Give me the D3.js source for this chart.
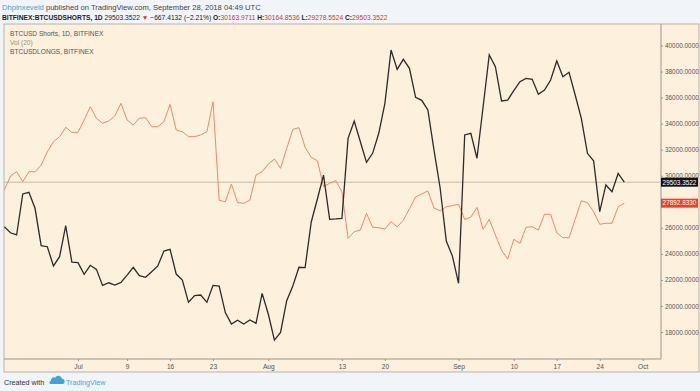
<!DOCTYPE html>
<html lang="en">
<head>
<meta charset="utf-8">
<title>BTCUSD Shorts vs Longs</title>
<script src="https://d3js.org/d3.v7.min.js"></script>
<style>
  body { margin: 0; background: #f1f4f8; }
  svg { display: block; font-family: "Liberation Sans", Arial, sans-serif; }
</style>
</head>
<body>
<svg width="700" height="391"></svg>
<script>
// daily closes, 2018-06-19 .. 2018-09-28
const firstDay = "2018-06-19";
const shorts = [
  26080, 25620, 25450, 28600, 28730, 27500, 24630, 24550, 23070, 23780, 26160, 23370,
  23320, 22430, 23120, 22810, 21580, 21780, 21610, 21810, 22370, 22970, 22320, 22200,
  22630, 23070, 24220, 24350, 22450, 21990, 20280, 20790, 20840, 20280, 21580, 21530,
  19490, 18610, 18900, 18610, 18920, 18670, 20970, 19380, 17380, 17970, 20400, 21530,
  22970, 22940, 26450, 28210, 30050, 26650, 26680, 26730, 32870, 34200, 32610, 31030,
  31720, 33260, 35560, 39650, 38170, 38940, 38250, 36020, 35790, 35050, 31970, 29060,
  24990, 23830, 21740, 33130, 33260, 31340, 35300, 39270, 38370, 35740, 35810, 36530,
  37220, 37480, 37400, 36250, 36580, 37350, 38810, 37600, 37940, 36200, 34410, 31720,
  31150, 27240, 29290, 28770, 30171, 29503.3522
];
const longs = [
  28900, 29980, 30310, 29540, 30310, 30300, 30820, 31840, 32610, 33000, 33720, 33330,
  33330, 34280, 35300, 34410, 34030, 34200, 34590, 35560, 34280, 33890, 34410, 34460,
  33760, 33760, 34150, 35480, 33510, 33380, 33000, 33000, 33130, 33380, 35680, 28110,
  28000, 29360, 27930, 27880, 28130, 30050, 30310, 30900, 31280, 30570, 32100, 33560,
  33690, 32180, 31410, 31150, 29160, 29420, 29620, 28770, 25190, 25700, 25830, 27110,
  26040, 26010, 25910, 26470, 26080, 26580, 27470, 28370, 28600, 28830, 27520, 27310,
  27620, 27700, 27800, 26650, 26810, 27570, 25880, 26650, 25450, 24290, 23600, 25120,
  24810, 26040, 26080, 25830, 27040, 27040, 25620, 25240, 25240, 26650, 28080, 27930,
  27240, 26270, 26350, 26350, 27620, 27892.833
];
const tickDates = ["2018-07-01", "2018-07-09", "2018-07-16", "2018-07-23", "2018-08-01", "2018-08-13",
                   "2018-08-20", "2018-09-01", "2018-09-10", "2018-09-17", "2018-09-24", "2018-10-01"];
const tickLabels = ["Jul", "9", "16", "23", "Aug", "13", "20", "Sep", "10", "17", "24", "Oct"];
// 28000 sits under the red last-value badge, so it has no label
const priceTicks = [18000, 20000, 22000, 24000, 26000, 30000, 32000, 34000, 36000, 38000, 40000];

const svg = d3.select("svg");
const pane = {left: 4, right: 661, top: 24, bottom: 359};
const axisBottom = 372, outerRight = 699;

const parse = d3.timeParse("%Y-%m-%d");
const day0 = parse(firstDay);
const dates = shorts.map((d, i) => d3.timeDay.offset(day0, i));

const x = d3.scaleTime()
    .domain([parse("2018-07-01"), parse("2018-10-01")])
    .range([78, 642.7]);
const y = d3.scaleLinear()
    .domain([18000, 40000])
    .range([332, 45.5]);

// header
const h1 = svg.append("text").attr("x", 2).attr("y", 9.5).attr("font-size", 7.6).attr("fill", "#444");
h1.append("tspan").attr("fill", "#3ba6dc").text("Dhpinxeveld");
h1.append("tspan").text(" published on TradingView.com, September 28, 2018 04:49 UTC");

const h2 = svg.append("text").attr("x", 2).attr("y", 19.5).attr("font-size", 6.7).attr("fill", "#222");
h2.append("tspan").attr("font-weight", "bold").text("BITFINEX:BTCUSDSHORTS, 1D");
h2.append("tspan").text("  29503.3522 ");
h2.append("tspan").attr("fill", "#e0301e").text("▼");
h2.append("tspan").text(" −667.4132 (−2.21%) ");
[["O:", "30163.9711"], ["H:", "30164.8536"], ["L:", "29278.5524"], ["C:", "29503.3522"]].forEach(([k, v]) => {
  h2.append("tspan").attr("font-weight", "bold").text(" " + k);
  h2.append("tspan").attr("fill", "#d8342c").text(v);
});

// chart box
svg.append("rect").attr("x", pane.left).attr("y", pane.top)
  .attr("width", outerRight - pane.left).attr("height", axisBottom - pane.top)
  .attr("fill", "#fdf0dc").attr("stroke", "#b9b3a8").attr("stroke-width", 1);
svg.append("line").attr("x1", pane.right).attr("x2", pane.right).attr("y1", pane.top).attr("y2", pane.bottom)
  .attr("stroke", "#9c9588");
svg.append("line").attr("x1", pane.left).attr("x2", pane.right).attr("y1", pane.bottom).attr("y2", pane.bottom)
  .attr("stroke", "#9c9588");

svg.append("clipPath").attr("id", "clip").append("rect")
  .attr("x", pane.left).attr("y", pane.top).attr("width", pane.right - pane.left).attr("height", pane.bottom - pane.top);

// last price line
svg.append("line").attr("x1", pane.left).attr("x2", pane.right)
  .attr("y1", y(shorts[shorts.length - 1])).attr("y2", y(shorts[shorts.length - 1]))
  .attr("stroke", "#c9bba6").attr("stroke-width", 1);

const line = d3.line().x((d, i) => x(dates[i])).y(d => y(d));
svg.append("path").datum(longs).attr("clip-path", "url(#clip)")
  .attr("d", line).attr("fill", "none").attr("stroke", "#ea8b6c").attr("stroke-width", 1);
svg.append("path").datum(shorts).attr("clip-path", "url(#clip)")
  .attr("d", line).attr("fill", "none").attr("stroke", "#2b2b2b").attr("stroke-width", 1.3);

// legend
const legend = [["BTCUSD Shorts, 1D, BITFINEX", "#555"], ["Vol (20)", "#9c8f78"], ["BTCUSDLONGS, BITFINEX", "#555"]];
svg.selectAll(".leg").data(legend).enter().append("text")
  .attr("x", 10).attr("y", (d, i) => 36 + i * 9)
  .attr("font-size", 6.6).attr("fill", d => d[1]).text(d => d[0]);

// x axis
const xAxis = d3.axisBottom(x)
  .tickValues(tickDates.map(parse))
  .tickFormat((d, i) => tickLabels[i])
  .tickSize(2).tickPadding(3);
const gx = svg.append("g").attr("transform", `translate(0,${pane.bottom})`).call(xAxis);
gx.select(".domain").remove();
gx.selectAll("line").attr("stroke", "#999");
gx.selectAll("text").attr("font-size", 6.6).attr("fill", "#555").attr("font-family", "Liberation Sans, Arial, sans-serif");

// price axis
const yAxis = d3.axisRight(y)
  .tickValues(priceTicks)
  .tickFormat(d3.format(".4f"))
  .tickSize(2).tickPadding(2);
const gy = svg.append("g").attr("transform", `translate(${pane.right},0)`).call(yAxis);
gy.select(".domain").remove();
gy.selectAll("line").attr("stroke", "#999");
gy.selectAll("text").attr("font-size", 6.4).attr("fill", "#555").attr("font-family", "Liberation Sans, Arial, sans-serif");

// last value labels
const badges = [[shorts[shorts.length - 1], "#131313"], [longs[longs.length - 1], "#f2401f"]];
badges.forEach(([v, c]) => {
  const g = svg.append("g").attr("transform", `translate(${pane.right},${y(v)})`);
  g.append("rect").attr("x", 0).attr("y", -4.5).attr("width", outerRight - pane.right - 1).attr("height", 9).attr("fill", c);
  g.append("text").attr("x", 18.5).attr("y", 2.3).attr("text-anchor", "middle")
    .attr("font-size", 6.4).attr("fill", "#fff").text(d3.format(".4f")(v));
});

// footer
svg.append("text").attr("x", 4).attr("y", 385).attr("font-size", 7.2).attr("fill", "#333").text("Created with");
svg.append("path")
  .attr("d", "M51,384 h11 a2.6,2.6 0 0 0 0,-5.2 a3.6,3.6 0 0 0 -6.8,-1 a2.8,2.8 0 0 0 -4.2,3 a1.6,1.6 0 0 0 0,3.2 z")
  .attr("fill", "#3ba6dc");
svg.append("text").attr("x", 66).attr("y", 385).attr("font-size", 7.2).attr("fill", "#3ba6dc").text("TradingView");
</script>
</body>
</html>
